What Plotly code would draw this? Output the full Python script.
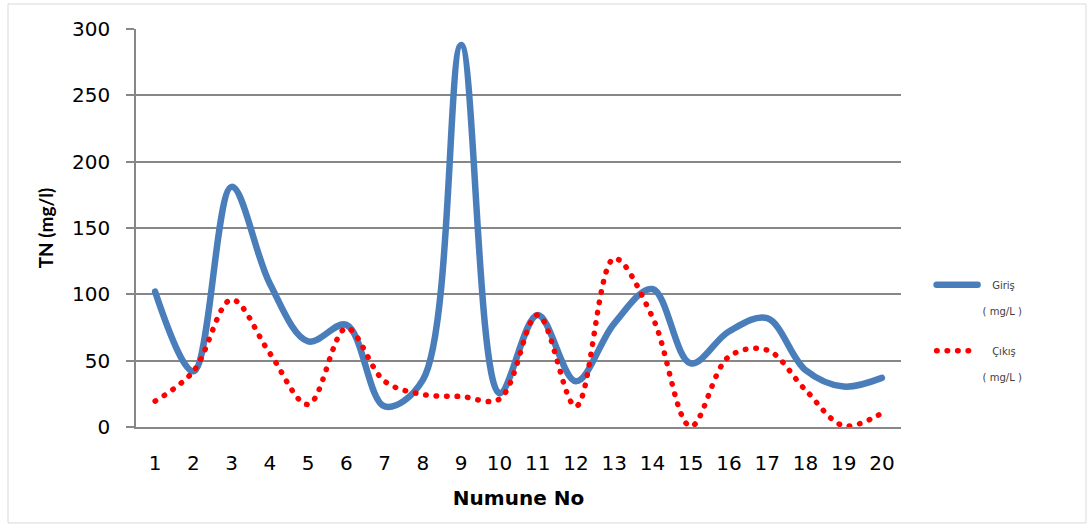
import plotly.graph_objects as go

# Sample numbers on the category axis
numune = [str(i) for i in range(1, 21)]

# Total nitrogen, influent and effluent (mg/L)
giris = [102, 42, 181, 108, 64.5, 77, 15.5, 35.5, 288, 25.5,
         84.5, 34.5, 78, 104, 48, 72, 82, 43, 30.5, 37]
cikis = [19.5, 42, 96, 55.5, 17, 74.5, 34.5, 24.5, 23, 21,
         84.5, 15.5, 127, 83, 0.5, 53, 58, 28, 1, 10.5]

y_ticks = [0, 50, 100, 150, 200, 250, 300]

TICK_FONT = "DejaVu Sans"
GRID = "#878787"

fig = go.Figure()

fig.add_trace(go.Scatter(
    x=numune, y=giris, mode="lines",
    name="\u00a0\u00a0\u00a0Giriş<br><br>( mg/L )",
    legendgroup="g1",
    line=dict(color="#4A7EBB", width=6.5, shape="spline", smoothing=1.0),
))
fig.add_trace(go.Scatter(
    x=numune, y=cikis, mode="lines",
    name="\u00a0\u00a0\u00a0Çıkış<br><br>( mg/L )",
    legendgroup="g2",
    line=dict(color="#FF0000", width=5.5, shape="spline", smoothing=1.0,
              dash="0.5px,10px"),
))

# light frame around the whole chart area
fig.add_shape(type="rect", xref="paper", yref="paper",
              x0=-0.1673, x1=1.2418, y0=-0.241, y1=1.0628,
              line=dict(color="#D9D9D9", width=1), fillcolor="rgba(0,0,0,0)",
              layer="below")

fig.update_layout(
    width=1088, height=525,
    margin=dict(l=136, r=187, t=29, b=98),
    paper_bgcolor="white", plot_bgcolor="white",
    font=dict(family=TICK_FONT, color="#000000"),
    showlegend=True,
    legend=dict(
        x=1.04, y=0.39, xanchor="left", yanchor="top",
        font=dict(family=TICK_FONT, size=10, color="#404040"),
        valign="top", tracegroupgap=24, itemwidth=41,
        bgcolor="rgba(0,0,0,0)",
    ),
    xaxis=dict(
        type="category", categoryorder="array", categoryarray=numune,
        range=[-0.5, 19.5],
        showgrid=False, zeroline=False,
        showline=True, linecolor=GRID, linewidth=1.5,
        ticks="", tickfont=dict(family=TICK_FONT, size=20, color="#000000"),
        ticklabelstandoff=17,
        title=dict(text="<b>Numune No</b>",
                   font=dict(family="DejaVu Sans", size=20), standoff=17),
    ),
    yaxis=dict(
        range=[0, 300], tickvals=y_ticks,
        showgrid=True, gridcolor=GRID, gridwidth=1.5,
        zeroline=False,
        showline=True, linecolor=GRID, linewidth=1.5,
        ticks="outside", ticklen=8, tickcolor=GRID, tickwidth=1.5,
        tickfont=dict(family=TICK_FONT, size=20, color="#000000"),
        ticklabelstandoff=12,
        title=dict(text="<b>TN (mg/l)</b>",
                   font=dict(family="Lato", size=19), standoff=13),
    ),
)

# round line caps turn the sparse dash pattern into dots
round_caps = """
document.querySelectorAll('.js-line, .legendlines path').forEach(function (p) {
  p.style.strokeLinecap = 'round';
});
"""

fig.write_html("out.html", post_script=round_caps)
